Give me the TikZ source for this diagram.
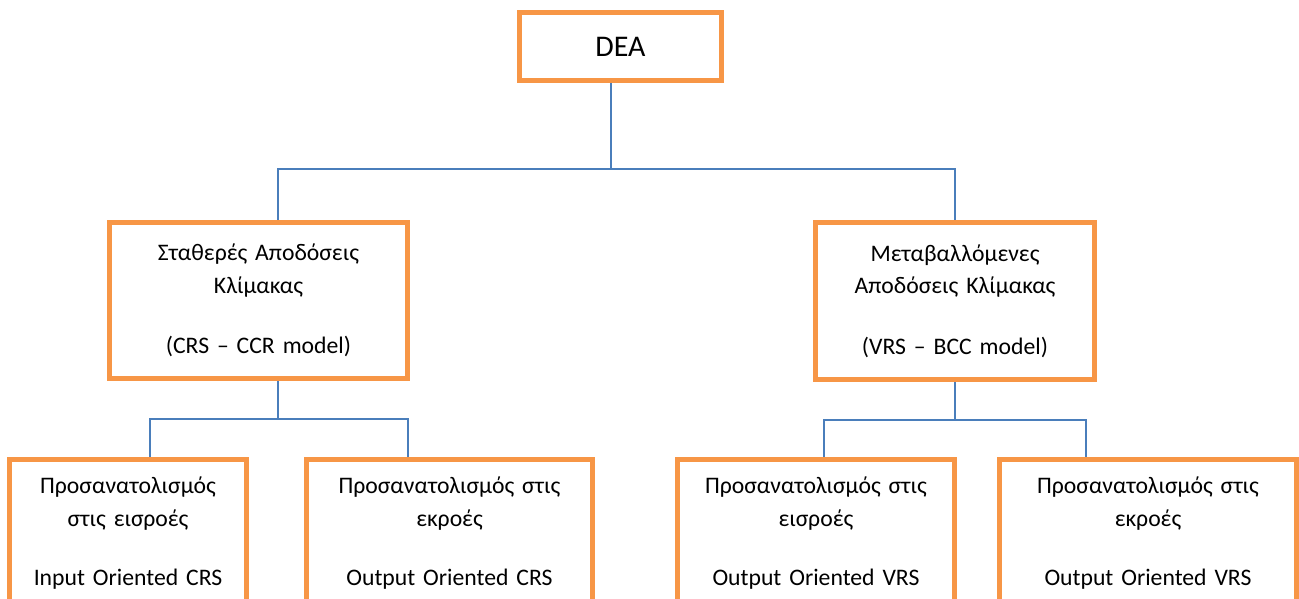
\documentclass[tikz,border=0pt]{standalone}
\usepackage{fontspec}
\setmainfont{Carlito}
\usetikzlibrary{calc}
\usetikzlibrary{positioning}
\definecolor{boxorange}{HTML}{F79646}
\definecolor{linkblue}{HTML}{4A7EBB}
\tikzset{
	box/.style={draw=boxorange, line width=5pt, fill=white, align=center, anchor=north,
		inner xsep=6pt, inner ysep=17.5pt, font=\fontsize{23.7}{32.5}\selectfont},
	link/.style={draw=linkblue, line width=1.8pt}
}

\begin{document}
\begin{tikzpicture}[x=1pt, y=-1pt]

\useasboundingbox (0,0) rectangle (1299,599);
\clip (0,0) rectangle (1299,599);

\node[box, anchor=center, minimum width=202pt, minimum height=68pt, inner ysep=0pt,
	font=\fontsize{30}{36}\selectfont] (dea) at (620.5,46.5) {DEA};

\node[box, text width=286pt, minimum height=156pt] (crs) at (258.5,220)
	{Σταθερές Αποδόσεις\\Κλίμακας\\[28pt](CRS – CCR model)};

\node[box, text width=267pt, minimum height=157pt] (vrs) at (955,220)
	{Μεταβαλλόμενες\\Αποδόσεις Κλίμακας\\[28pt](VRS – BCC model)};

\node[box, text width=225pt] (crsin) at (128,457)
	{Προσανατολισμός\\στις εισροές\\[27pt]Input Oriented CRS};

\node[box, text width=274pt] (crsout) at (449.5,457)
	{Προσανατολισμός στις\\εκροές\\[27pt]Output Oriented CRS};

\node[box, text width=265pt] (vrsin) at (816,457)
	{Προσανατολισμός στις\\εισροές\\[27pt]Output Oriented VRS};

\node[box, text width=285pt] (vrsout) at (1148,457)
	{Προσανατολισμός στις\\εκροές\\[27pt]Output Oriented VRS};

\draw [link] ([xshift=-9.8]dea.south) -- ++(0,86) coordinate (topfork);
\draw [link] (topfork) -| ([xshift=19.5]crs.north);
\draw [link] (topfork) -| (vrs.north);

\draw [link] ([xshift=19.5]crs.south) -- ++(0,38) coordinate (crsfork);
\draw [link] (crsfork) -| ([xshift=22]crsin.north);
\draw [link] (crsfork) -| ([xshift=-41.8]crsout.north);

\draw [link] (vrs.south) -- ++(0,38) coordinate (vrsfork);
\draw [link] (vrsfork) -| ([xshift=8]vrsin.north);
\draw [link] (vrsfork) -| ([xshift=-62.3]vrsout.north);

\end{tikzpicture}
\end{document}
